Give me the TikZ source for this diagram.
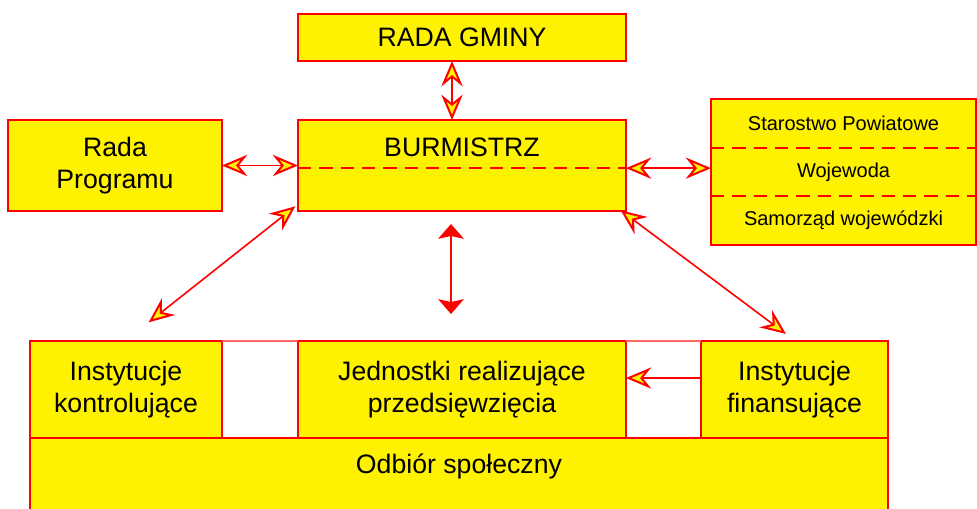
\documentclass[tikz,border=0pt]{standalone}
\usepackage{fontspec}
\setmainfont{Liberation Sans}
\usetikzlibrary{arrows.meta,positioning}
\tikzset{
  box/.style={draw=red,fill=yellow,line width=1.5pt,inner sep=0pt,outer sep=0pt,
    align=center,font=\fontsize{20}{23.5}\selectfont},
  boxcell/.style={fill=yellow,inner sep=0pt,outer sep=0pt,
    minimum width=198.75pt,minimum height=36.5pt,font=\fontsize{15}{18}\selectfont},
  txt/.style={inner sep=0pt,font=\fontsize{20}{23.5}\selectfont},
  divline/.style={red,line width=1.5pt,dash pattern=on 10pt off 6pt},
  arrlink/.style={red,line width=1.2pt,
    >={Stealth[length=19pt,width=16pt,inset=6.5pt,fill=yellow,line width=1.5pt]}},
  arrfat/.style={red,line width=2.2pt,>={Stealth[length=11pt,width=19pt,inset=2pt]}}
}
\begin{document}
\begin{tikzpicture}[x=0.75pt,y=-0.75pt]
\useasboundingbox (0,0) rectangle (977,509);
\clip (0,0) rectangle (977,509);

% top
\node[box,minimum width=246pt,minimum height=35.25pt] (gmina) at (462,37.5) {RADA GMINY};
\node[box,minimum width=246pt,minimum height=68.25pt] (burm) at (462,165.5) {};
\node[txt] (burmTxt) at (462,147) {BURMISTRZ};
\draw[divline] ([yshift=-1.9pt]burm.west) -- ([yshift=-1.9pt]burm.east);
\node[box,minimum width=160.5pt,minimum height=68.25pt] (rprog) at (115,165.5) {Rada\\Programu};

% right
\node[boxcell,anchor=north west] (staro) at (711,99) {Starostwo Powiatowe};
\node[boxcell,below=0pt of staro] (woj) {Wojewoda};
\node[boxcell,below=0pt of woj] (samo) {Samorząd wojewódzki};
\draw[red,line width=1.5pt] (staro.north west) rectangle (samo.south east);
\draw[divline] (staro.south west) -- (staro.south east);
\draw[divline] (woj.south west) -- (woj.south east);

% bottom
\node[box,anchor=north west,minimum width=144pt,minimum height=72.75pt] (kontrol) at (30,341) {Instytucje\\kontrolujące};
\node[box,right=57pt of kontrol,minimum width=246pt,minimum height=72.75pt] (jedn) {Jednostki realizujące\\przedsięwzięcia};
\node[box,right=56.25pt of jedn,minimum width=140.25pt,minimum height=72.75pt] (finans) {Instytucje\\finansujące};
\node[box,anchor=north west,minimum width=643.5pt,minimum height=60pt] (odbior) at (kontrol.south west) {};
\node[txt] (odbiorTxt) at ([yshift=-21pt]odbior.north) {Odbiór społeczny};
\draw[red!60,line width=0.8pt] (kontrol.north east) -- (jedn.north west);
\draw[red!60,line width=0.8pt] (jedn.north east) -- (finans.north west);

% arrows
\draw[arrlink,<->] ([xshift=-7.5pt]gmina.south) -- ([xshift=-7.5pt]burm.north);
\draw[arrlink,<->] (rprog.east) -- (burm.west);
\draw[arrlink,<->] ([yshift=-2pt]burm.east) -- ([yshift=-2pt]burm.east -| woj.west);
\coordinate (kontrolTip) at ([shift={(17pt,14pt)}]kontrol.north);
\draw[arrlink,<->] ([shift={(-2pt,3.5pt)}]burm.south west) -- (kontrolTip);
\coordinate (finansTip) at ([shift={(-6.4pt,5.3pt)}]finans.north);
\draw[arrlink,<->] ([shift={(-4pt,0.5pt)}]burm.south east) -- (finansTip);
\coordinate (fatTop) at ([shift={(-8.25pt,-9.75pt)}]burm.south);
\coordinate (fatBot) at ([shift={(-8.25pt,20.25pt)}]jedn.north);
\draw[arrfat,<->] (fatTop) -- (fatBot);
\draw[arrlink,->] ([yshift=8.6pt]finans.west) -- ([yshift=8.6pt]finans.west -| jedn.east);
\end{tikzpicture}
\end{document}
